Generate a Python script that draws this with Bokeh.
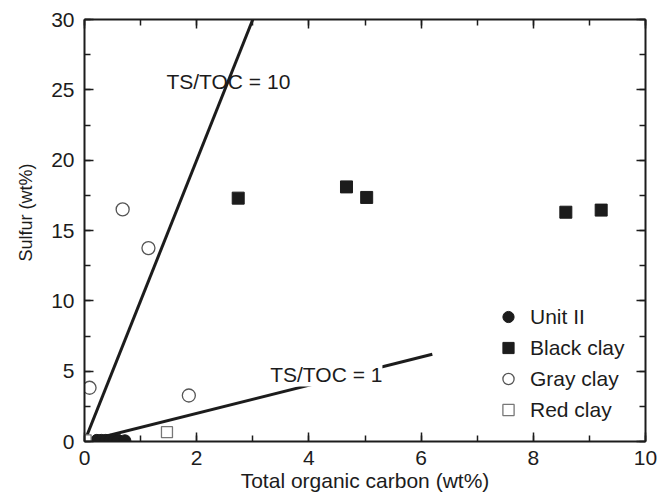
from bokeh.plotting import figure
from bokeh.models import (LinearAxis, Label, Legend, LegendItem, Range1d,
                          SingleIntervalTicker, Title)
from bokeh.embed import file_html
from bokeh.resources import INLINE

# Total organic carbon (wt%) and sulfur (wt%) per lithology
unit2_toc = [0.22, 0.30, 0.38, 0.46, 0.53, 0.60, 0.72]
unit2_s = [0.08, 0.08, 0.08, 0.08, 0.08, 0.08, 0.05]

black_toc = [2.74, 4.67, 5.03, 8.58, 9.21]
black_s = [17.3, 18.1, 17.35, 16.3, 16.45]

gray_toc = [0.68, 1.14, 0.09, 1.86]
gray_s = [16.5, 13.75, 3.82, 3.27]

red_toc = [0.02, 1.47]
red_s = [0.08, 0.66]

# Reference ratio lines TS/TOC = 10 and TS/TOC = 1
ratio10_x = [0.0, 3.0]
ratio10_y = [0.0, 30.0]
ratio1_x = [0.0, 6.2]
ratio1_y = [0.0, 6.2]

FONT = "Liberation Sans"
FS = "21px"
INK = "#1c1c1c"

p = figure(width=660, height=494, output_backend="svg", toolbar_location=None,
           x_range=Range1d(0, 10), y_range=Range1d(0, 30),
           min_border_left=84, min_border_right=15, min_border_top=19,
           min_border_bottom=53, x_axis_location=None, y_axis_location=None)
p.grid.visible = False
p.outline_line_color = None
p.background_fill_color = "white"


def style_axis(ax, ticker, labels=True):
    ax.ticker = ticker
    ax.axis_line_color = INK
    ax.axis_line_width = 2
    ax.major_tick_in = 9
    ax.major_tick_out = 0
    ax.minor_tick_in = 6
    ax.minor_tick_out = 0
    ax.major_tick_line_color = INK
    ax.minor_tick_line_color = INK
    ax.major_tick_line_width = 1.5
    ax.minor_tick_line_width = 1.5
    ax.major_label_text_font = FONT
    ax.major_label_text_font_size = FS
    ax.major_label_text_color = INK if labels else None
    ax.axis_label_text_font = FONT
    ax.axis_label_text_font_size = FS
    ax.axis_label_text_font_style = "normal"
    ax.axis_label_text_color = INK


xt = SingleIntervalTicker(interval=2, num_minor_ticks=2)
yt = SingleIntervalTicker(interval=5, num_minor_ticks=2)

xb = LinearAxis(axis_label="Total organic carbon (wt%)")
style_axis(xb, xt)
xb.major_label_standoff = 9
xb.axis_label_standoff = 1
p.add_layout(xb, "below")

yl = LinearAxis()
style_axis(yl, yt)
yl.major_label_standoff = 10
p.add_layout(yl, "left")

xa = LinearAxis()
style_axis(xa, SingleIntervalTicker(interval=2, num_minor_ticks=2), labels=False)
xa.major_label_text_font_size = "0px"
p.add_layout(xa, "above")

yr = LinearAxis()
style_axis(yr, SingleIntervalTicker(interval=5, num_minor_ticks=2), labels=False)
yr.major_label_text_font_size = "0px"
p.add_layout(yr, "right")

# y-axis title, set a little above the frame's middle
p.add_layout(Title(text="Sulfur (wt%)", align="right", offset=144,
                   text_font=FONT, text_font_size="18px",
                   text_font_style="normal", text_color=INK, standoff=25),
             "left")

# ratio lines
p.line(ratio10_x, ratio10_y, line_color=INK, line_width=3)
p.line(ratio1_x, ratio1_y, line_color=INK, line_width=3)

# data points
r_unit2 = p.scatter(unit2_toc, unit2_s, marker="circle", size=12,
                    fill_color=INK, line_color=INK)
r_black = p.scatter(black_toc, black_s, marker="square", size=12,
                    fill_color=INK, line_color=INK)
r_gray = p.scatter(gray_toc, gray_s, marker="circle", size=13,
                   fill_color="white", line_color="#555555", line_width=1.3)
r_red = p.scatter(red_toc, red_s, marker="square", size=11,
                  fill_color="white", line_color="#777777", line_width=1.3)

p.add_layout(Label(x=1.46, y=24.75, text="TS/TOC = 10", text_font=FONT,
                   text_font_size=FS, text_color=INK))
p.add_layout(Label(x=3.31, y=3.91, text="TS/TOC = 1", text_font=FONT,
                   text_font_size=FS, text_color=INK,
                   background_fill_color="white"))

legend = Legend(items=[
    LegendItem(label="Unit II", renderers=[r_unit2]),
    LegendItem(label="Black clay", renderers=[r_black]),
    LegendItem(label="Gray clay", renderers=[r_gray]),
    LegendItem(label="Red clay", renderers=[r_red]),
], location=(410, 16), orientation="vertical",
    label_text_font=FONT, label_text_font_size=FS, label_text_color=INK,
    glyph_width=28, glyph_height=31, label_height=31, spacing=0,
    padding=0, margin=0, label_standoff=8,
    background_fill_alpha=0, border_line_color=None)
p.add_layout(legend)

open("out.html", "w").write(file_html(p, INLINE))
